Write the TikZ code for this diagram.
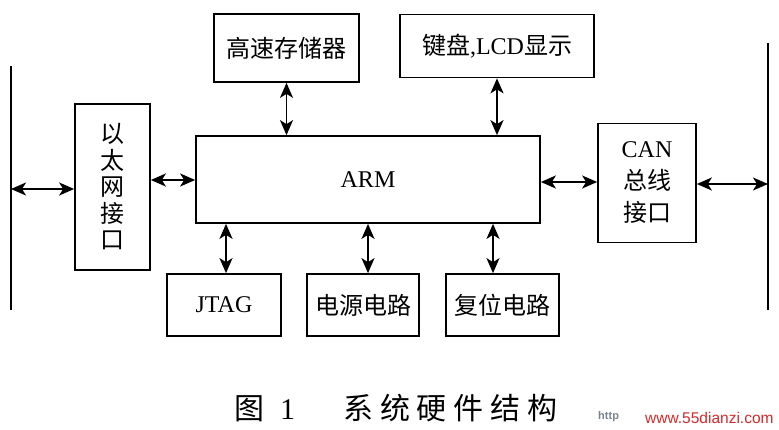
\documentclass[tikz,border=0pt]{standalone}
\usepackage{fontspec}
\setmainfont{Liberation Serif}
\newfontfamily\cjk{Noto Sans CJK SC}
\newfontfamily\cjkcap{Noto Sans CJK SC}[LetterSpace=23]
\newfontfamily\wmfont{Liberation Sans}
\usetikzlibrary{arrows.meta}
\definecolor{wmred}{HTML}{D42A2A}
\definecolor{wmgrey}{HTML}{7A8290}
\begin{document}
\begin{tikzpicture}[x=1pt,y=-1pt,
  blk/.style={draw,line width=1.7pt,inner sep=0pt,align=center,font=\fontsize{24}{30}\selectfont},
  link/.style={line width=1.7pt,{Stealth[length=15pt,width=13pt,inset=4pt]}-{Stealth[length=15pt,width=13pt,inset=4pt]}},
  bus/.style={line width=1.7pt}]
\useasboundingbox (0,0) rectangle (779,430);
\fill[white] (0,0) rectangle (779,430);
% blocks
\node[blk,minimum width=145pt,minimum height=68pt] (mem) at (286.5,48) {\cjk 高速存储器};
\node[blk,minimum width=194pt,minimum height=63pt] (kbd) at (497,46) {{\cjk 键盘},LCD{\cjk 显示}};
\node[blk,minimum width=75pt,minimum height=166pt,font=\fontsize{24}{26.5}\selectfont] (eth) at (112.5,187) {\cjk 以\\\cjk 太\\\cjk 网\\\cjk 接\\\cjk 口};
\node[blk,minimum width=344pt,minimum height=87pt] (arm) at (368,179.5) {ARM};
\node[blk,minimum width=98pt,minimum height=119pt,font=\fontsize{24}{32}\selectfont] (can) at (647,183) {CAN\\\cjk 总线\\\cjk 接口};
\node[blk,minimum width=114pt,minimum height=62pt] (jtag) at (224,305) {JTAG};
\node[blk,minimum width=112pt,minimum height=62pt] (pwr) at (363,305) {\cjk 电源电路};
\node[blk,minimum width=113pt,minimum height=62pt] (rst) at (502.5,305) {\cjk 复位电路};
% buses
\coordinate (lbt) at (11,66);
\coordinate (lbb) at (11,310);
\coordinate (rbt) at (768,43);
\coordinate (rbb) at (768,310);
\draw[bus] (lbt) -- (lbb);
\draw[bus] (rbt) -- (rbb);
% connectors
\draw[link] ([yshift=-2pt]eth.west -| lbt) -- ([yshift=-2pt]eth.west);
\draw[link] ([yshift=7pt]eth.east) -- ([yshift=7pt]eth.east -| arm.west);
\draw[link] ([yshift=1pt]can.west -| arm.east) -- ([yshift=1pt]can.west);
\draw[link] ([yshift=-1pt]can.east) -- ([yshift=-1pt]can.east -| rbt);
\draw[link] (mem.south) -- (mem.south |- arm.north);
\draw[link] (kbd.south) -- (kbd.south |- arm.north);
\draw[link] ([xshift=2pt]jtag.north |- arm.south) -- ([xshift=2pt]jtag.north);
\draw[link] ([xshift=5pt]pwr.north |- arm.south) -- ([xshift=5pt]pwr.north);
\draw[link] ([xshift=-9.5pt]rst.north |- arm.south) -- ([xshift=-9.5pt]rst.north);
% caption
\node[anchor=west,inner sep=0pt,font=\fontsize{30}{32}\selectfont] (cap) at (234,408)
  {{\cjk 图}\hspace{16pt}1\hspace{48pt}{\cjkcap 系统硬件结构}};
\node[anchor=west,inner sep=0pt,text=wmgrey,font=\wmfont\bfseries\fontsize{11}{12}\selectfont] (wm1) at (598,417) {http};
\node[anchor=west,inner sep=0pt,text=wmred,font=\wmfont\fontsize{15.5}{16}\selectfont] (wm2) at (645,418) {www.55dianzi.com};
\end{tikzpicture}
\end{document}
